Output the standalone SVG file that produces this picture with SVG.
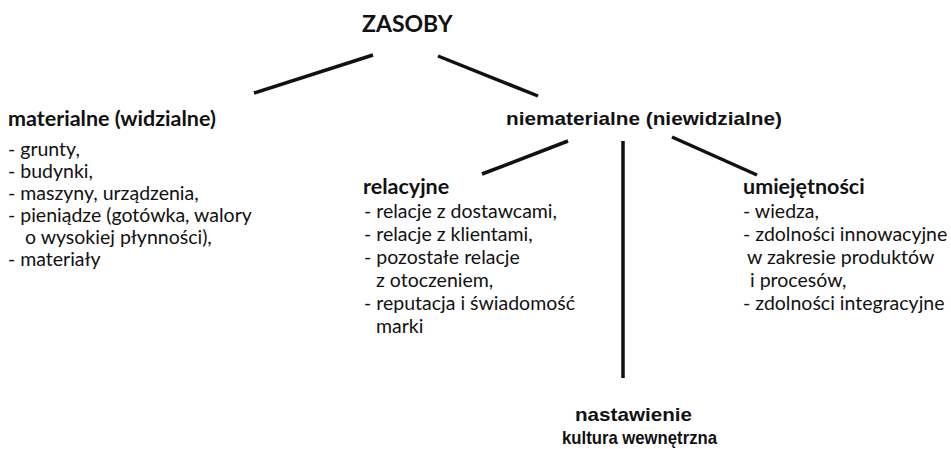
<svg xmlns="http://www.w3.org/2000/svg" width="951" height="449" viewBox="0 0 951 449">
  <style>
    .bg { fill: #ffffff; }
    .title { font-family: Lato, "Open Sans", sans-serif; font-weight: 700; font-size: 23px; fill: #111; }
    .head { font-family: Lato, "Open Sans", sans-serif; font-weight: 700; font-size: 21.5px; fill: #111; }
    .item { font-family: Lato, "Open Sans", sans-serif; font-size: 19.5px; fill: #111; }
    .arial { font-family: "Liberation Sans", Arial, sans-serif; font-weight: 700; font-size: 18.5px; fill: #111; }
    .edge { stroke: #111; stroke-width: 3.5; stroke-linecap: butt; fill: none; }
  </style>
  <rect class="bg" x="0" y="0" width="951" height="449"/>

  <!-- connectors -->
  <g id="connectors">
    <line class="edge" x1="254" y1="93" x2="373" y2="55"/>
    <line class="edge" x1="438" y1="56" x2="538" y2="96"/>
    <line class="edge" x1="482" y1="174" x2="568" y2="141"/>
    <line class="edge" x1="623" y1="141" x2="623" y2="378"/>
    <line class="edge" x1="672" y1="137" x2="757" y2="175"/>
  </g>

  <g id="zasoby">
    <text class="title" x="362" y="32">ZASOBY</text>
  </g>

  <g id="materialne">
    <text class="head" x="8" y="126">materialne (widzialne)</text>
    <text class="item" x="8" y="156">- grunty,</text>
    <text class="item" x="8" y="178">- budynki,</text>
    <text class="item" x="8" y="200">- maszyny, urządzenia,</text>
    <text class="item" x="8" y="222">- pieniądze (gotówka, walory</text>
    <text class="item" x="25" y="244">o wysokiej płynności),</text>
    <text class="item" x="8" y="266">- materiały</text>
  </g>

  <g id="niematerialne">
    <text class="arial" x="506" y="125" textLength="276" lengthAdjust="spacingAndGlyphs">niematerialne (niewidzialne)</text>
  </g>

  <g id="relacyjne">
    <text class="head" x="363" y="194">relacyjne</text>
    <text class="item" x="364" y="218">- relacje z dostawcami,</text>
    <text class="item" x="364" y="241">- relacje z klientami,</text>
    <text class="item" x="364" y="264">- pozostałe relacje</text>
    <text class="item" x="376" y="287">z otoczeniem,</text>
    <text class="item" x="364" y="310">- reputacja i świadomość</text>
    <text class="item" x="376" y="333">marki</text>
  </g>

  <g id="umiejetnosci">
    <text class="head" x="743" y="194">umiejętności</text>
    <text class="item" x="743" y="218">- wiedza,</text>
    <text class="item" x="743" y="241">- zdolności innowacyjne</text>
    <text class="item" x="747" y="264">w zakresie produktów</text>
    <text class="item" x="750" y="287">i  procesów,</text>
    <text class="item" x="743" y="310">- zdolności integracyjne</text>
  </g>

  <g id="nastawienie">
    <text class="arial" x="575" y="421" textLength="117" lengthAdjust="spacingAndGlyphs">nastawienie</text>
    <text class="arial" x="562" y="444" textLength="155" lengthAdjust="spacingAndGlyphs">kultura wewnętrzna</text>
  </g>
</svg>
